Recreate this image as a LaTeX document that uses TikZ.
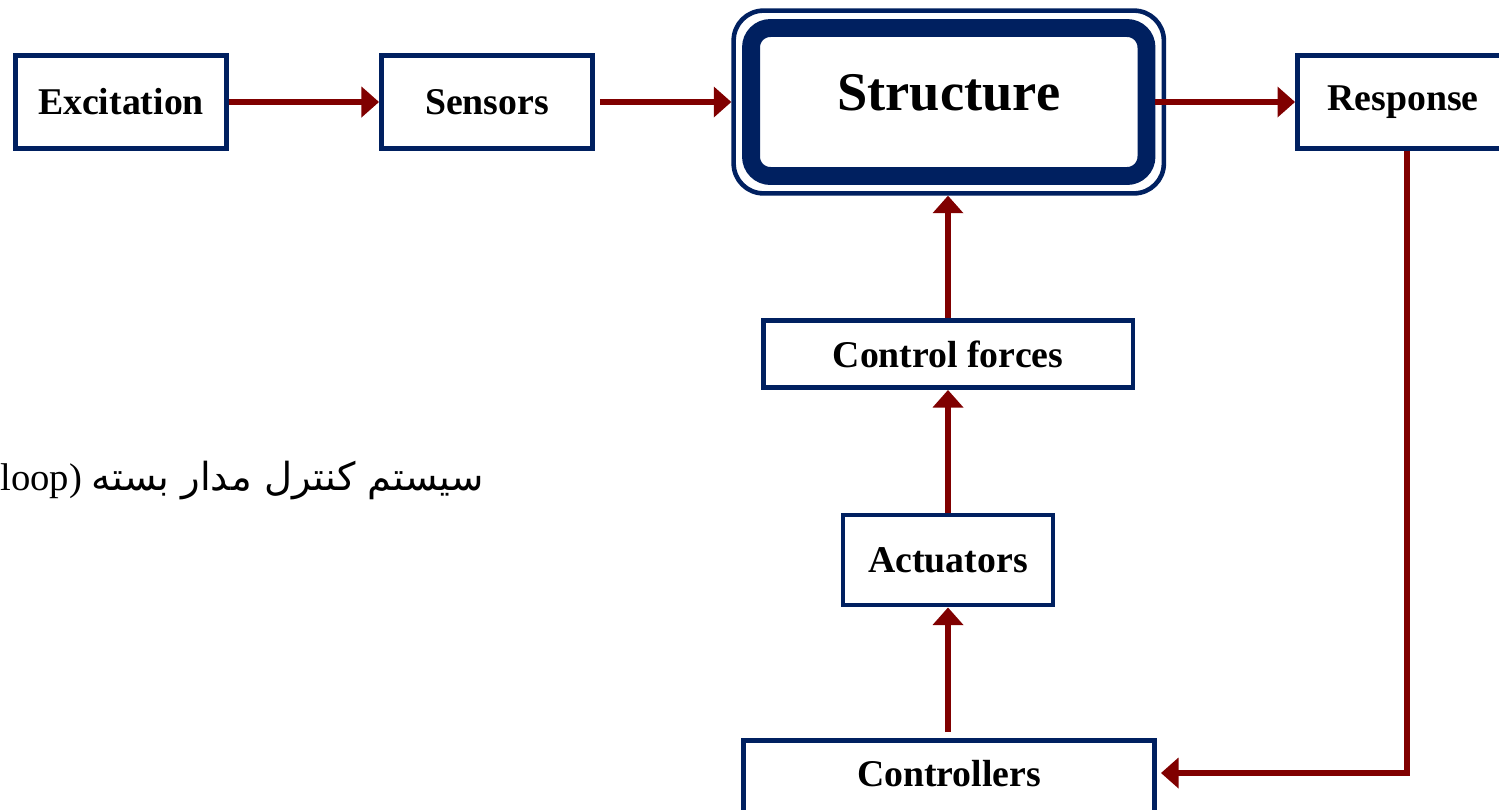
\documentclass[tikz,border=0pt]{standalone}
\usepackage{fontspec}
\setmainfont{Liberation Serif}
\newfontfamily\arabicfont[Script=Arabic]{DejaVu Sans}
\TeXXeTstate=1
\usetikzlibrary{arrows.meta,fit,calc}
\definecolor{navy}{HTML}{002060}
\definecolor{maroon}{HTML}{800000}

\begin{document}
\begin{tikzpicture}[x=0.02cm, y=-0.02cm,
    box/.style={draw=navy, line width=2.8pt, fill=white, inner sep=0pt,
        minimum width=4.22cm, minimum height=1.86cm,
        font=\fontsize{21.5}{24}\selectfont\bfseries},
    arr/.style={draw=maroon, line width=3.3pt, -{Triangle[length=10pt,width=17pt]}},
    ]

  \useasboundingbox (0,0) rectangle (1499,809);

	%top row
    \foreach \x/\txt/\name in {121/Excitation/exc, 487/Sensors/sen, 1403/Response/resp}{
        \node[box] (\name) at (\x,102) {\txt};
    }

	%structure, thick box and thin ring
    \node[draw=navy, line width=10.2pt, rounded corners=11pt, inner sep=0pt,
        minimum width=7.91cm, minimum height=2.96cm, text depth=10.4pt,
        font=\fontsize{31}{34}\selectfont\bfseries] (str) at (948.75,102) {Structure};
    \node[draw=navy, line width=2.6pt, rounded corners=17pt, inner sep=4.8pt, fit=(str)] (strout) {};

	%control chain
    \node[box, minimum width=7.4cm, minimum height=1.34cm] (cf) at (948,354) {Control forces};
    \node[box, minimum width=4.2cm, minimum height=1.8cm] (act) at (948,560) {Actuators};
    \node[box, minimum width=8.22cm, text depth=15.9pt] (ctrl) at (949,787) {Controllers};

	%arrows
    \draw[arr] (exc) -- (sen);
    \draw[arr, shorten <=2.8pt] (sen) -- (sen -| strout.west);
    \draw[arr] (str.east) -- (resp);
    \draw[arr] (cf.north) -- (cf.north |- strout.south);
    \draw[arr] (act.north) -- (cf.south);
    \draw[arr, shorten <=3.4pt] (ctrl.north -| act) -- (act.south);

    \coordinate (fb) at (1407,773);
    \draw[arr, shorten >=2.3pt] (resp.south -| fb) -- (fb) -- (fb -| ctrl.east);

	%caption, cut at the left edge
    \node[anchor=base east, inner sep=0pt, font=\fontsize{22}{26}\selectfont] (cap) at (484,490)
        {(Closed loop) {\arabicfont\beginR سیستم کنترل مدار بسته\endR}};

\end{tikzpicture}
\end{document}
